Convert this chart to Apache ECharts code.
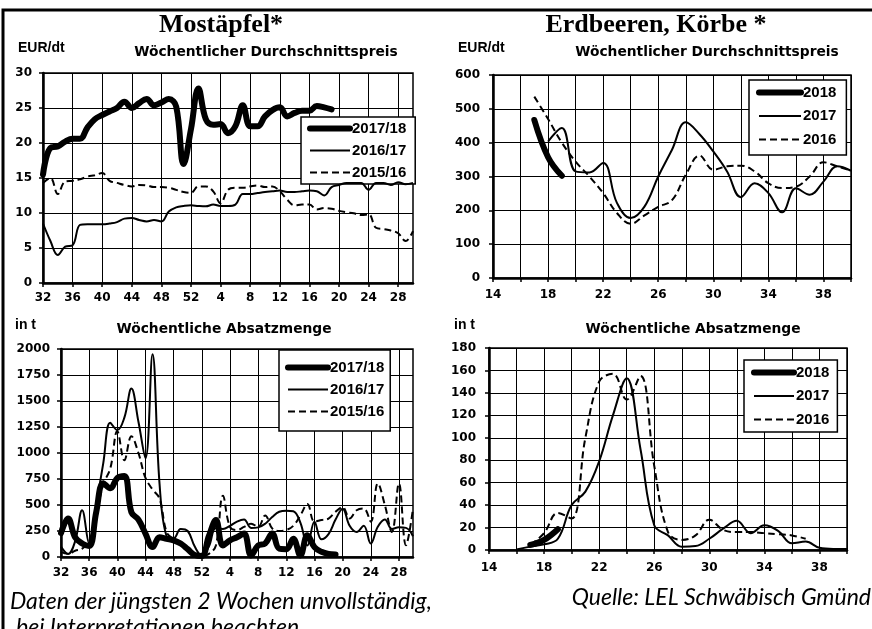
<!DOCTYPE html>
<html><head><meta charset="utf-8">
<script src="https://cdn.jsdelivr.net/npm/echarts@6/dist/echarts.min.js"></script>
<style>html,body{margin:0;padding:0;background:#fff}#c{width:872px;height:629px}</style>
</head><body><div id="c"></div>
<script>
// ---- Mostäpfel (weeks 32..52, 1..30) ----
const weeksMost = ['32','33','34','35','36','37','38','39','40','41','42','43','44','45','46','47','48','49','50','51','52',
  '1','2','3','4','5','6','7','8','9','10','11','12','13','14','15','16','17','18','19','20','21','22','23','24','25','26','27','28','29','30'];
const priceMost1718 = [15.5,19.3,19.5,20.2,20.6,20.6,22.2,23.4,24.0,24.5,
  25.0,25.9,25.0,25.7,26.3,25.4,25.8,26.3,25.2,17.0,
  22.0,27.8,23.4,22.6,22.7,21.4,22.4,25.4,22.4,22.4,
  23.8,24.7,25.1,23.8,24.3,24.6,24.6,25.3,25.1,24.8];
const priceMost1617 = [8.5,6.0,4.0,5.2,5.4,8.3,8.4,8.4,8.4,8.5,
  8.7,9.2,9.3,9.0,8.8,9.0,8.8,10.2,10.8,11.0,
  11.1,11.0,10.95,11.2,11.0,11.0,11.2,12.7,12.7,12.85,
  13.0,13.1,13.2,13.0,13.0,13.1,13.2,13.1,12.5,13.7,
  14.0,14.3,14.3,14.3,13.3,14.3,14.3,14.0,14.4,14.1,14.3];
const priceMost1516 = [14.3,15.0,12.7,14.5,14.6,14.8,15.2,15.4,15.7,14.6,
  14.3,14.0,13.8,14.0,13.95,13.7,13.7,13.6,13.3,13.0,
  12.9,13.8,13.8,13.1,11.4,13.3,13.6,13.6,13.8,13.95,
  13.7,13.8,13.1,11.9,11.1,11.2,11.2,10.5,10.7,10.6,
  10.3,10.1,9.95,9.7,9.8,7.9,7.7,7.5,7.1,6.0,7.4];
const volMost1718 = [230,370,190,130,105,430,710,660,760,780,
  430,360,225,95,190,175,160,130,75,20,
  10,200,355,110,160,190,225,15,110,130,
  225,80,75,175,15,210,95,50,30,25];
const volMost1617 = [100,30,150,450,130,500,900,1290,1220,1340,
  1620,1300,950,1950,700,200,180,270,250,100,
  15,100,280,270,300,340,360,280,285,320,
  385,435,445,440,330,110,340,170,220,360,
  465,300,240,300,130,290,360,270,285,280,200];
const volMost1516 = [50,30,60,80,150,400,700,850,1210,930,
  1160,1000,760,650,560,240,170,110,60,30,
  10,30,110,590,290,260,290,320,290,400,
  275,250,260,300,400,510,340,355,370,435,
  480,370,450,466,340,707,500,240,707,113,466];
const ticksMostPrice = [0,5,10,15,20,25,30];
const ticksMostVol = [0,250,500,750,1000,1250,1500,1750,2000];

// ---- Erdbeeren (weeks 14..40) ----
const weeksErd = ['14','15','16','17','18','19','20','21','22','23','24','25','26','27','28','29','30','31','32','33','34','35','36','37','38','39','40'];
const priceErd2018 = [null,null,null,467,357,302];
const priceErd2017 = [null,null,null,null,403,443,315,312,340,222,177,211,300,379,460,425,374,315,239,280,251,194,265,246,285,330,317];
const priceErd2016 = [null,null,null,536,470,400,344,300,251,192,160,185,210,230,305,362,320,330,332,315,280,266,270,300,342,330,318];
const volErd2018 = [null,null,null,4.5,9,18.5];
const volErd2017 = [null,null,0.5,3,5,10,40,52,79,120,153,90,22,13,3,3.5,10,19,26,15,22,17,6,7.5,2,1,1];
const volErd2016 = [null,null,null,4.5,15,33,28,100,150,157,134,155,75,16,9,13,27,18,16,16,15,14,13,10];
const ticksErdPrice = [0,100,200,300,400,500,600];
const ticksErdVol = [0,20,40,60,80,100,120,140,160,180];

const BLACK = '#000';
const STYLES = {
  thick: { color: BLACK, width: 6, type: 'solid', cap: 'round', join: 'round' },
  thin: { color: BLACK, width: 2, type: 'solid' },
  dash: { color: BLACK, width: 2, type: [7, 4] }
};

function xAxis(gi, data, labelInt, splitInt, margin) {
  return {
    type: 'category', gridIndex: gi, data: data, boundaryGap: false,
    axisLine: { show: true, lineStyle: { color: BLACK, width: 2.5 } },
    axisTick: { show: true, interval: splitInt, length: 4, inside: false, lineStyle: { color: BLACK, width: 1.5 } },
    axisLabel: { interval: labelInt, margin: margin, color: BLACK, fontFamily: 'DejaVu Sans', fontWeight: 'bold', fontSize: 12 },
    splitLine: { show: true, interval: splitInt, lineStyle: { color: BLACK, width: 1 } }
  };
}
function yAxis(gi, ticks, margin) {
  return {
    type: 'value', gridIndex: gi, min: ticks[0], max: ticks[ticks.length - 1],
    interval: ticks[1] - ticks[0],
    axisLine: { show: true, lineStyle: { color: BLACK, width: 2.5 } },
    axisTick: { show: true, length: 4, lineStyle: { color: BLACK, width: 1.5 } },
    axisLabel: { margin: margin, color: BLACK, fontFamily: 'DejaVu Sans', fontWeight: 'bold', fontSize: 12,
      formatter: function (v) { return String(v); } },
    splitLine: { show: true, lineStyle: { color: BLACK, width: 1 } }
  };
}
function line(name, data, idx, kind) {
  const z = kind === 'thick' ? 5 : (kind === 'dash' ? 3 : 4);
  return {
    type: 'line', name: name, data: data, xAxisIndex: idx, yAxisIndex: idx,
    smooth: 0.4, symbol: 'none', showSymbol: false, connectNulls: false,
    lineStyle: Object.assign({}, STYLES[kind]), itemStyle: { color: BLACK }, z: z, silent: true,
    emphasis: { disabled: true }
  };
}
function legendItems(names) {
  const kinds = ['thick', 'thin', 'dash'];
  return names.map(function (n, i) {
    return { name: n, lineStyle: Object.assign({}, STYLES[kinds[i]]),
      itemStyle: { color: 'rgba(0,0,0,0)', borderWidth: 0, opacity: 0 } };
  });
}
function legend(names, left, top, itemWidth, itemGap, padding) {
  return {
    show: true, orient: 'vertical', left: left, top: top, data: legendItems(names),
    itemWidth: itemWidth, itemHeight: 14, itemGap: itemGap, padding: padding,
    borderColor: BLACK, borderWidth: 1.5, backgroundColor: '#fff',
    selectedMode: false,
    textStyle: { color: BLACK, fontFamily: 'Liberation Sans', fontWeight: 'bold', fontSize: 15, padding: [0, 0, 0, -3] }
  };
}
function txt(x, y, text, font, align) {
  return { type: 'text', x: x, y: y, silent: true, z: 100,
    style: { text: text, font: font, fill: BLACK, align: align || 'center', verticalAlign: 'middle' } };
}

const chart = echarts.init(document.getElementById('c'), null, { renderer: 'canvas' });
const leftNames = ['2017/18', '2016/17', '2015/16'];
const rightNames = ['2018', '2017', '2016'];
const SUB = 'bold 13.8px "DejaVu Sans"';
const UNIT = 'bold 14px "Liberation Sans"';
const FOOT = 'italic 23px Lato';
chart.setOption({
  animation: false,
  backgroundColor: '#fff',
  grid: [
    { left: 43, top: 73, width: 370, height: 210, show: true, borderColor: BLACK, borderWidth: 1.5, backgroundColor: 'transparent' },
    { left: 61, top: 349, width: 352, height: 208, show: true, borderColor: BLACK, borderWidth: 1.5, backgroundColor: 'transparent' },
    { left: 493, top: 75, width: 358, height: 203, show: true, borderColor: BLACK, borderWidth: 1.5, backgroundColor: 'transparent' },
    { left: 489, top: 348, width: 358, height: 202, show: true, borderColor: BLACK, borderWidth: 1.5, backgroundColor: 'transparent' }
  ],
  xAxis: [
    xAxis(0, weeksMost, 3, 3, 9),
    xAxis(1, weeksMost, 3, 3, 10),
    xAxis(2, weeksErd, 3, 1, 11),
    xAxis(3, weeksErd, 3, 1, 12)
  ],
  yAxis: [
    yAxis(0, ticksMostPrice, 11),
    yAxis(1, ticksMostVol, 11),
    yAxis(2, ticksErdPrice, 13),
    yAxis(3, ticksErdVol, 13)
  ],
  legend: [
    legend(leftNames, 301, 117, 40, 7, [4, 9, 4, 6]),
    legend(leftNames, 279, 350, 40, 7, [10, 6, 12, 6]),
    legend(rightNames, 749, 80, 42, 8.5, [5, 10, 8, 7]),
    legend(rightNames, 744, 360, 40, 8.5, [5, 8, 5, 7])
  ],
  series: [
    line('2015/16', priceMost1516, 0, 'dash'),
    line('2016/17', priceMost1617, 0, 'thin'),
    line('2017/18', priceMost1718, 0, 'thick'),
    line('2015/16', volMost1516, 1, 'dash'),
    line('2016/17', volMost1617, 1, 'thin'),
    line('2017/18', volMost1718, 1, 'thick'),
    line('2016', priceErd2016, 2, 'dash'),
    line('2017', priceErd2017, 2, 'thin'),
    line('2018', priceErd2018, 2, 'thick'),
    line('2016', volErd2016, 3, 'dash'),
    line('2017', volErd2017, 3, 'thin'),
    line('2018', volErd2018, 3, 'thick')
  ],
  graphic: [
    { type: 'polyline', silent: true, shape: { points: [[3, 629], [3, 10], [872, 10]] }, style: { stroke: BLACK, lineWidth: 3, fill: null } },
    txt(221, 25, 'Mostäpfel*', 'bold 26px "Liberation Serif"'),
    txt(656, 25, 'Erdbeeren, Körbe *', 'bold 26px "Liberation Serif"'),
    txt(266, 52, 'Wöchentlicher Durchschnittspreis', SUB),
    txt(707, 52, 'Wöchentlicher Durchschnittspreis', SUB),
    txt(18, 48, 'EUR/dt', UNIT, 'left'),
    txt(458, 48, 'EUR/dt', UNIT, 'left'),
    txt(15, 325, 'in t', UNIT, 'left'),
    txt(454, 325, 'in t', UNIT, 'left'),
    txt(224, 329, 'Wöchentliche Absatzmenge', SUB),
    txt(693, 329, 'Wöchentliche Absatzmenge', SUB),
    txt(10, 602, 'Daten der jüngsten 2 Wochen unvollständig,', FOOT, 'left'),
    txt(16, 628, 'bei Interpretationen beachten', FOOT, 'left'),
    txt(871, 598, 'Quelle: LEL Schwäbisch Gmünd', FOOT, 'right')
  ]
});
</script></body></html>
